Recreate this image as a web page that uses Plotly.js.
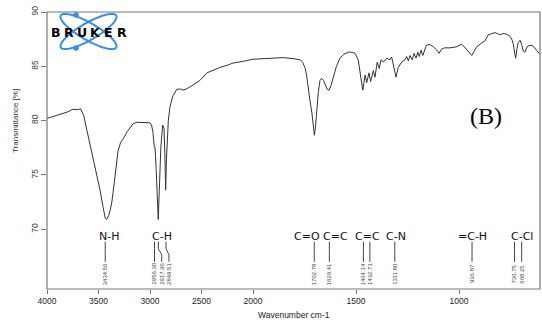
<!DOCTYPE html>
<html><head><meta charset="utf-8">
<script src="https://cdn.plot.ly/plotly-3.0.1.min.js"></script>
<style>html,body{margin:0;padding:0;background:#fff}#plot{width:542px;height:323px}</style>
</head><body><div id="plot"></div>
<script>
// Spectrum (wavenumber cm-1, transmittance %)
const wavenumber = [4000,3950,3900,3850,3800,3748,3700,3675,3660,3645,3631,3600,3553,3520,3485,3455,3434,3420,3400,3385,3369,3340,3311,3285,3262,3220,3165,3130,3097,3050,3000,2985,2971,2960,2951,2940,2930,2920,2910,2895,2877,2864,2856,2848,2840,2830,2822,2806,2777,2738,2700,2680,2650,2612,2560,2515,2447,2400,2320,2250,2194,2100,2029,2000,
1950,1900,1854,1800,1772,1760,1748,1740,1733,1724,1714,1708,1702,1696,1691,1683,1675,1667,1658,1650,1640,1631,1620,1610,1595,1578,1560,1537,1520,1505,1489,1477,1467,1456,1448,1437,1429,1416,1408,1397,1387,1379,1367,1351,1335,1327,1316,1306,1295,1278,1262,1254,1246,1238,1227,1218,1209,1200,1193,1184,1176,1165,1158,1141,1125,1108,1097,1084,1070,1044,1011,987,971,955,938,926,914,890,874,858,840,825,812,801,790,777,765,752,742,736,730,725,719,712,704,696,688,680,670,660,645,630,615,607];
const transmittance = [80.2,80.35,80.5,80.65,80.8,81.05,81.0,81.1,80.7,80.5,79.9,78.6,76.6,75.1,73.6,72.0,71.0,70.9,71.3,71.8,72.6,74.8,77.2,78.0,78.3,79.0,79.7,79.85,79.85,79.85,79.8,79.6,78.9,77.7,77.5,75.5,72.8,70.9,73.5,77.5,79.6,79.3,77.0,73.6,76.5,79.0,80.0,81.3,82.3,82.9,82.9,82.8,82.9,83.1,83.4,83.7,84.4,84.6,84.9,85.1,85.3,85.45,85.6,85.65,
85.7,85.75,85.8,85.7,85.6,85.4,84.9,84.2,83.1,81.9,80.7,79.5,78.65,79.6,81.0,82.6,83.7,83.9,83.7,83.3,82.9,82.8,83.3,84.0,85.0,85.75,86.1,86.3,86.3,86.2,85.6,84.0,82.8,84.2,83.5,84.4,83.6,84.6,84.0,85.4,84.8,85.6,85.4,85.75,85.6,85.85,84.9,84.0,84.9,85.4,85.6,85.9,85.5,86.0,85.6,86.2,85.75,86.3,85.9,86.5,86.0,86.7,86.95,87.0,86.8,86.5,86.2,86.6,86.7,86.7,86.8,87.05,86.7,86.3,86.0,86.4,86.8,87.15,87.35,87.9,88.0,88.1,88.0,87.9,88.0,88.0,87.9,87.75,87.4,87.0,86.2,85.75,86.6,87.2,87.4,87.0,86.4,86.3,86.8,86.9,86.95,86.6,86.3,86.1];

// Peak annotations
const peakValues = [3434.56,2956.30,2917.96,2849.51,1702.78,1629.41,1464.14,1432.71,1311.80,936.87,730.75,668.25];
const peakTextWn = [3434.56,2956.30,2886,2816,1702.78,1629.41,1464.14,1432.71,1311.80,936.87,730.75,696];
const peakLineTopWn = [3434.56,2956.30,2919,2845,1702.78,1629.41,1464.14,1432.71,1311.80,936.87,730.75,696];
const groupNames = ['N-H','C-H','C=O','C=C','C=C','C-N','=C-H','C-Cl'];
const groupWn = [3400,2886,1739,1602,1442,1307,933,694];

const xTicks1 = [4000,3500,3000,2500,2000];
const xTicks2 = [1500,1000];
const yTicks = [70,75,80,85,90];

const W=493, H=277, L=47, T=12;
const split = 206/493;
const px = x => (x-L)/W, py = y => (T+H-y)/H;
const ax = w => w>=2000 ? 'x' : 'x2';

const hi = [], lo = [];
wavenumber.forEach((w,i)=>{ if(w>=2000) hi.push(i); if(w<=2000) lo.push(i); });
const lineStyle = {color:'#333', width:1};
const traces = [
  {x:hi.map(i=>wavenumber[i]), y:hi.map(i=>transmittance[i]), xaxis:'x', yaxis:'y', mode:'lines', line:lineStyle, hoverinfo:'skip'},
  {x:lo.map(i=>wavenumber[i]), y:lo.map(i=>transmittance[i]), xaxis:'x2', yaxis:'y', mode:'lines', line:lineStyle, hoverinfo:'skip'}
];

const tickFont = {family:'Liberation Sans, Arial, sans-serif', size:8.5, color:'#222'};
const xBase = {ticks:'outside', ticklen:4, tickcolor:'#777', tickwidth:1, showgrid:false, zeroline:false, showline:false, tickfont:tickFont, tickmode:'array', anchor:'y', fixedrange:true};

const shapes = [];
const annotations = [];
shapes.push({type:'rect', xref:'paper', yref:'paper', x0:0, x1:1, y0:0, y1:1, line:{color:'#777', width:1.2}, layer:'above'});

const yTop = 68.85, yBend1 = 68.2, yBend2 = 67.65, yBot = 67.0, yText = 65.88;
peakValues.forEach((v,i)=>{
  const a = ax(peakTextWn[i]);
  const xt = peakLineTopWn[i], xb = peakTextWn[i];
  const path = `M ${xt},${yTop} L ${xt},${yBend1} L ${xb},${yBend2} L ${xb},${yBot}`;
  shapes.push({type:'path', xref:a, yref:'y', path:path, line:{color:'#444', width:1}});
  annotations.push({xref:a, yref:'y', x:xb, y:yText, text:v.toFixed(2), textangle:-90, showarrow:false,
    font:{family:'Liberation Sans, Arial, sans-serif', size:6, color:'#444'}, xanchor:'center', yanchor:'middle'});
});
groupNames.forEach((g,i)=>{
  annotations.push({xref:ax(groupWn[i]), yref:'y', x:groupWn[i], y:69.35, text:g, showarrow:false,
    font:{family:'DejaVu Sans, Verdana, sans-serif', size:11, color:'#111'}, xanchor:'center', yanchor:'middle'});
});

annotations.push({xref:'paper', yref:'paper', x:px(294), y:py(315), text:'Wavenumber cm-1', showarrow:false,
  font:{family:'Liberation Sans, Arial, sans-serif', size:8.5, color:'#222'}, xanchor:'center', yanchor:'middle'});
annotations.push({xref:'paper', yref:'paper', x:px(15), y:py(121), text:'Transmittance [%]', textangle:-90, showarrow:false,
  font:{family:'Liberation Sans, Arial, sans-serif', size:8, color:'#333'}, xanchor:'center', yanchor:'middle'});
annotations.push({xref:'paper', yref:'paper', x:px(486), y:py(116), text:'(B)', showarrow:false,
  font:{family:'Liberation Serif, Times New Roman, serif', size:24, color:'#000'}, xanchor:'center', yanchor:'middle'});

function ellipsePath(cx, cy, a, b, deg){
  const t = deg*Math.PI/180; let d='';
  for(let k=0;k<=72;k++){
    const p = k/72*2*Math.PI;
    const x = cx + a*Math.cos(p)*Math.cos(t) - b*Math.sin(p)*Math.sin(t);
    const y = cy + a*Math.cos(p)*Math.sin(t) + b*Math.sin(p)*Math.cos(t);
    d += (k?' L ':'M ') + px(x).toFixed(4) + ',' + py(y).toFixed(4);
  }
  return d + ' Z';
}
const blue = '#3a8ee8';
shapes.push({type:'path', xref:'paper', yref:'paper', path:ellipsePath(88.5,31.5,32,8.5,30), line:{color:blue, width:2}, layer:'above'});
shapes.push({type:'path', xref:'paper', yref:'paper', path:ellipsePath(88.5,31.5,32,8.5,-30), line:{color:blue, width:2}, layer:'above'});
[[76,15],[76,48]].forEach(([x,y])=>{
  shapes.push({type:'circle', xref:'paper', yref:'paper', x0:px(x-2.8), x1:px(x+2.8), y0:py(y+2.8), y1:py(y-2.8), fillcolor:blue, line:{width:0}, layer:'above'});
});
const logoLetters = ['B','R','U','K','E','R'];
const logoX = [55.5,68.8,82.3,95.5,108.2,121.5];
logoLetters.forEach((c,i)=>{
  annotations.push({xref:'paper', yref:'paper', x:px(logoX[i]), y:py(32.5), text:'<b>'+c+'</b>', showarrow:false,
    font:{family:'DejaVu Sans, Arial, sans-serif', size:12.5, color:'#000'}, xanchor:'center', yanchor:'middle'});
});

const layout = {
  width:542, height:323, margin:{l:L, r:2, t:T, b:34, pad:0},
  paper_bgcolor:'#fff', plot_bgcolor:'#fff', showlegend:false,
  xaxis: Object.assign({}, xBase, {domain:[0, split], range:[4000,2000], tickvals:xTicks1, ticktext:xTicks1.map(String)}),
  xaxis2: Object.assign({}, xBase, {domain:[split, 1], range:[2000,607], tickvals:xTicks2, ticktext:xTicks2.map(String)}),
  yaxis: {domain:[0,1], range:[64.5,90], tickmode:'array', tickvals:yTicks, tickangle:-90, ticks:'outside', ticklen:5, tickcolor:'#777',
          showgrid:false, zeroline:false, showline:false, tickfont:{family:'Liberation Sans, Arial, sans-serif', size:8.5, color:'#4a3a3a'}, anchor:'x', fixedrange:true},
  shapes:shapes, annotations:annotations
};
Plotly.newPlot('plot', traces, layout, {displayModeBar:false, staticPlot:true});
</script></body></html>
